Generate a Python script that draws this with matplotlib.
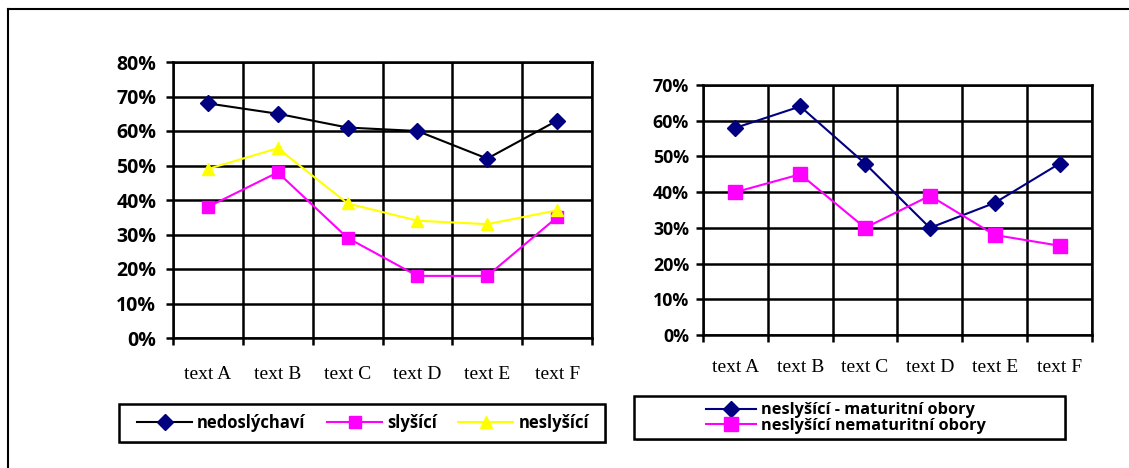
import numpy as np
import matplotlib.pyplot as plt
from matplotlib.lines import Line2D
from matplotlib.patches import Rectangle
from matplotlib.ticker import FixedLocator

categories = ["text A", "text B", "text C", "text D", "text E", "text F"]

# left chart
nedoslychavi = [0.68, 0.65, 0.61, 0.60, 0.52, 0.63]
slysici = [0.38, 0.48, 0.29, 0.18, 0.18, 0.35]
neslysici = [0.49, 0.55, 0.39, 0.34, 0.33, 0.37]

# right chart
maturitni = [0.58, 0.64, 0.48, 0.30, 0.37, 0.48]
nematuritni = [0.40, 0.45, 0.30, 0.39, 0.28, 0.25]

W, H = 1129, 468
fig = plt.figure(figsize=(W / 100, H / 100), dpi=100)

SANS = "Open Sans"
cat_font = dict(family="Liberation Serif", size=14)


def setup_axes(ax, ymax, pad, ysize, ypad):
    n = len(categories)
    x = np.arange(n)
    ax.set_xlim(-0.5, n - 0.5)
    ax.set_ylim(0, ymax)
    ax.xaxis.set_major_locator(FixedLocator(np.arange(n + 1) - 0.5))
    ax.set_xticklabels([])
    ax.set_xticks(x, categories, minor=True, **cat_font)
    ax.tick_params(axis="x", which="major", length=5, width=1.8, direction="out")
    ax.tick_params(axis="x", which="minor", length=0, pad=pad)
    yt = np.arange(0, round(ymax * 10) + 1) / 10
    ax.set_yticks(yt, ["%d%%" % round(v * 100) for v in yt])
    for t in ax.get_yticklabels():
        t.set_fontproperties(dict(family=SANS, weight="bold", size=ysize))
    ax.tick_params(axis="y", length=5, width=1.8, pad=ypad)
    ax.grid(True, which="major", color="black", linewidth=1.8)
    ax.set_axisbelow(True)
    for s in ax.spines.values():
        s.set_linewidth(1.8)
        s.set_color("black")


def frame(x0, y0, x1, y1):
    # legend box with a light shadow, in pixel coords from the top-left
    fig.add_artist(Rectangle((x0 / W + 2 / W, 1 - y1 / H - 2 / H), (x1 - x0) / W, (y1 - y0) / H,
                             transform=fig.transFigure, facecolor="#999999",
                             edgecolor="none", zorder=4))
    fig.add_artist(Rectangle((x0 / W, 1 - y1 / H), (x1 - x0) / W, (y1 - y0) / H,
                             transform=fig.transFigure, facecolor="white",
                             edgecolor="black", lw=1.8, zorder=5))


x = np.arange(len(categories))

# left axes
ax1 = fig.add_axes([173 / W, 1 - 338 / H, 419 / W, 276 / H])
h1, = ax1.plot(x, nedoslychavi, color="black", lw=1.5, marker="D", ms=8,
               mfc="#000080", mec="#000080", label="nedoslýchaví")
h2, = ax1.plot(x, slysici, color="#ff00ff", lw=1.5, marker="s", ms=9,
               mfc="#ff00ff", mec="#ff00ff", label="slyšící")
h3, = ax1.plot(x, neslysici, color="#ffff00", lw=1.5, marker="^", ms=9,
               mfc="#ffff00", mec="#ffff00", label="neslyšící")
setup_axes(ax1, 0.8, 20, 14, 7)

# right axes
ax2 = fig.add_axes([703 / W, 1 - 335 / H, 389 / W, 250 / H])
g1, = ax2.plot(x, maturitni, color="#000080", lw=1.5, marker="D", ms=8,
               mfc="#000080", mec="#000080", label="neslyšící - maturitní obory")
g2, = ax2.plot(x, nematuritni, color="#ff00ff", lw=1.5, marker="s", ms=9.5,
               mfc="#ff00ff", mec="#ff00ff", label="neslyšící nematuritní obory")
setup_axes(ax2, 0.7, 17, 12.8, 5)

# legends
frame(119, 404, 605, 442)
leg1 = fig.legend(handles=[h1, h2, h3], loc="center",
                  bbox_to_anchor=(132 / W, 1 - 442 / H, 462 / W, 38 / H),
                  mode="expand", ncol=3,
                  prop=dict(family=SANS, weight="bold", size=12),
                  frameon=False, handlelength=3.3, handletextpad=0.3,
                  borderpad=0.3, borderaxespad=0)
leg1.set_zorder(6)

frame(634, 396, 1065, 439)
leg2 = fig.legend(handles=[g1, g2], loc="center",
                  bbox_to_anchor=(846 / W, 1 - 418 / H), ncol=1,
                  prop=dict(family=SANS, weight="bold", size=11.8),
                  frameon=False, handlelength=3.0, handletextpad=0.3,
                  labelspacing=-0.05, borderpad=0, borderaxespad=0)
leg2.set_zorder(6)

# outer frame (runs off the image to the right and bottom)
fig.add_artist(Line2D([8 / W, 1.05], [1 - 9 / H, 1 - 9 / H], color="black",
                      lw=1.5, transform=fig.transFigure, clip_on=False))
fig.add_artist(Line2D([8 / W, 8 / W], [1 - 9 / H, -0.05], color="black",
                      lw=1.5, transform=fig.transFigure, clip_on=False))

fig.savefig("out.png", dpi=100)
